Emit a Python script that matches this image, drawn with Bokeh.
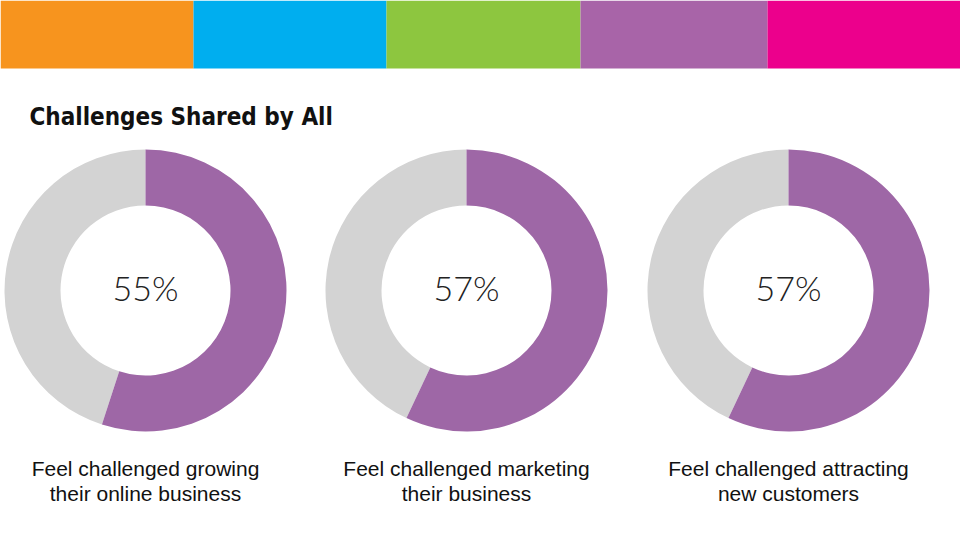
from bokeh.plotting import figure
from bokeh.models import Range1d, ColumnDataSource
from bokeh.core.properties import value
from bokeh.embed import file_html
from bokeh.resources import INLINE
import math

# Survey results
percents = [55, 57, 57]
captions = [
    ["Feel challenged growing", "their online business"],
    ["Feel challenged marketing", "their business"],
    ["Feel challenged attracting", "new customers"],
]
title_text = "Challenges Shared by All"

# Decorative colour band across the top
band_colors = ["#F7941E", "#00AEEF", "#8DC63F", "#A864A8", "#EC008C"]
band_edges = [0, 193, 386, 580, 767, 960]

W, H = 960, 540
p = figure(width=W, height=H, output_backend="svg", toolbar_location=None,
           x_range=Range1d(0, W), y_range=Range1d(H, 0),
           min_border=0, outline_line_color=None)
p.axis.visible = False
p.grid.visible = False
p.background_fill_color = "white"
p.border_fill_color = "white"

p.quad(left=band_edges[:-1], right=band_edges[1:], top=0, bottom=68,
       fill_color=band_colors, line_color=None)

p.text(x=[29], y=[116], text=[title_text], text_font=value("DejaVu Sans Condensed"),
       text_font_size="24px", text_font_style="bold", text_color="#111111",
       text_baseline="middle")

centers_x = [145, 466, 788]
cy = 290
outer_r, inner_r = 141, 85
purple, grey = "#9E67A6", "#D3D3D3"

start = math.pi / 2
src = ColumnDataSource(dict(
    x=centers_x,
    y=[cy] * 3,
    end=[start - 2 * math.pi * v / 100 for v in percents],
    label=[f"{v}%" for v in percents],
))

# remaining share (grey), then the highlighted share (purple) running clockwise from the top
p.annular_wedge(x="x", y="y", inner_radius=inner_r, outer_radius=outer_r,
                inner_radius_units="screen", outer_radius_units="screen",
                start_angle="end", end_angle=start - 2 * math.pi, direction="clock",
                fill_color=grey, line_color=None, source=src)
p.annular_wedge(x="x", y="y", inner_radius=inner_r, outer_radius=outer_r,
                inner_radius_units="screen", outer_radius_units="screen",
                start_angle=start, end_angle="end", direction="clock",
                fill_color=purple, line_color=None, source=src)

p.text(x="x", y="y", text="label", source=src, text_align="center",
       text_baseline="middle", y_offset=-3, text_font=value("Lato Light"),
       text_font_size="34px", text_color="#222222")

for cx, lines in zip(centers_x, captions):
    p.text(x=[cx, cx], y=[468, 493], text=lines, text_align="center",
           text_baseline="middle", text_font=value("Liberation Sans"),
           text_font_size="21px", text_color="#111111")

open("out.html", "w").write(file_html(p, INLINE))
